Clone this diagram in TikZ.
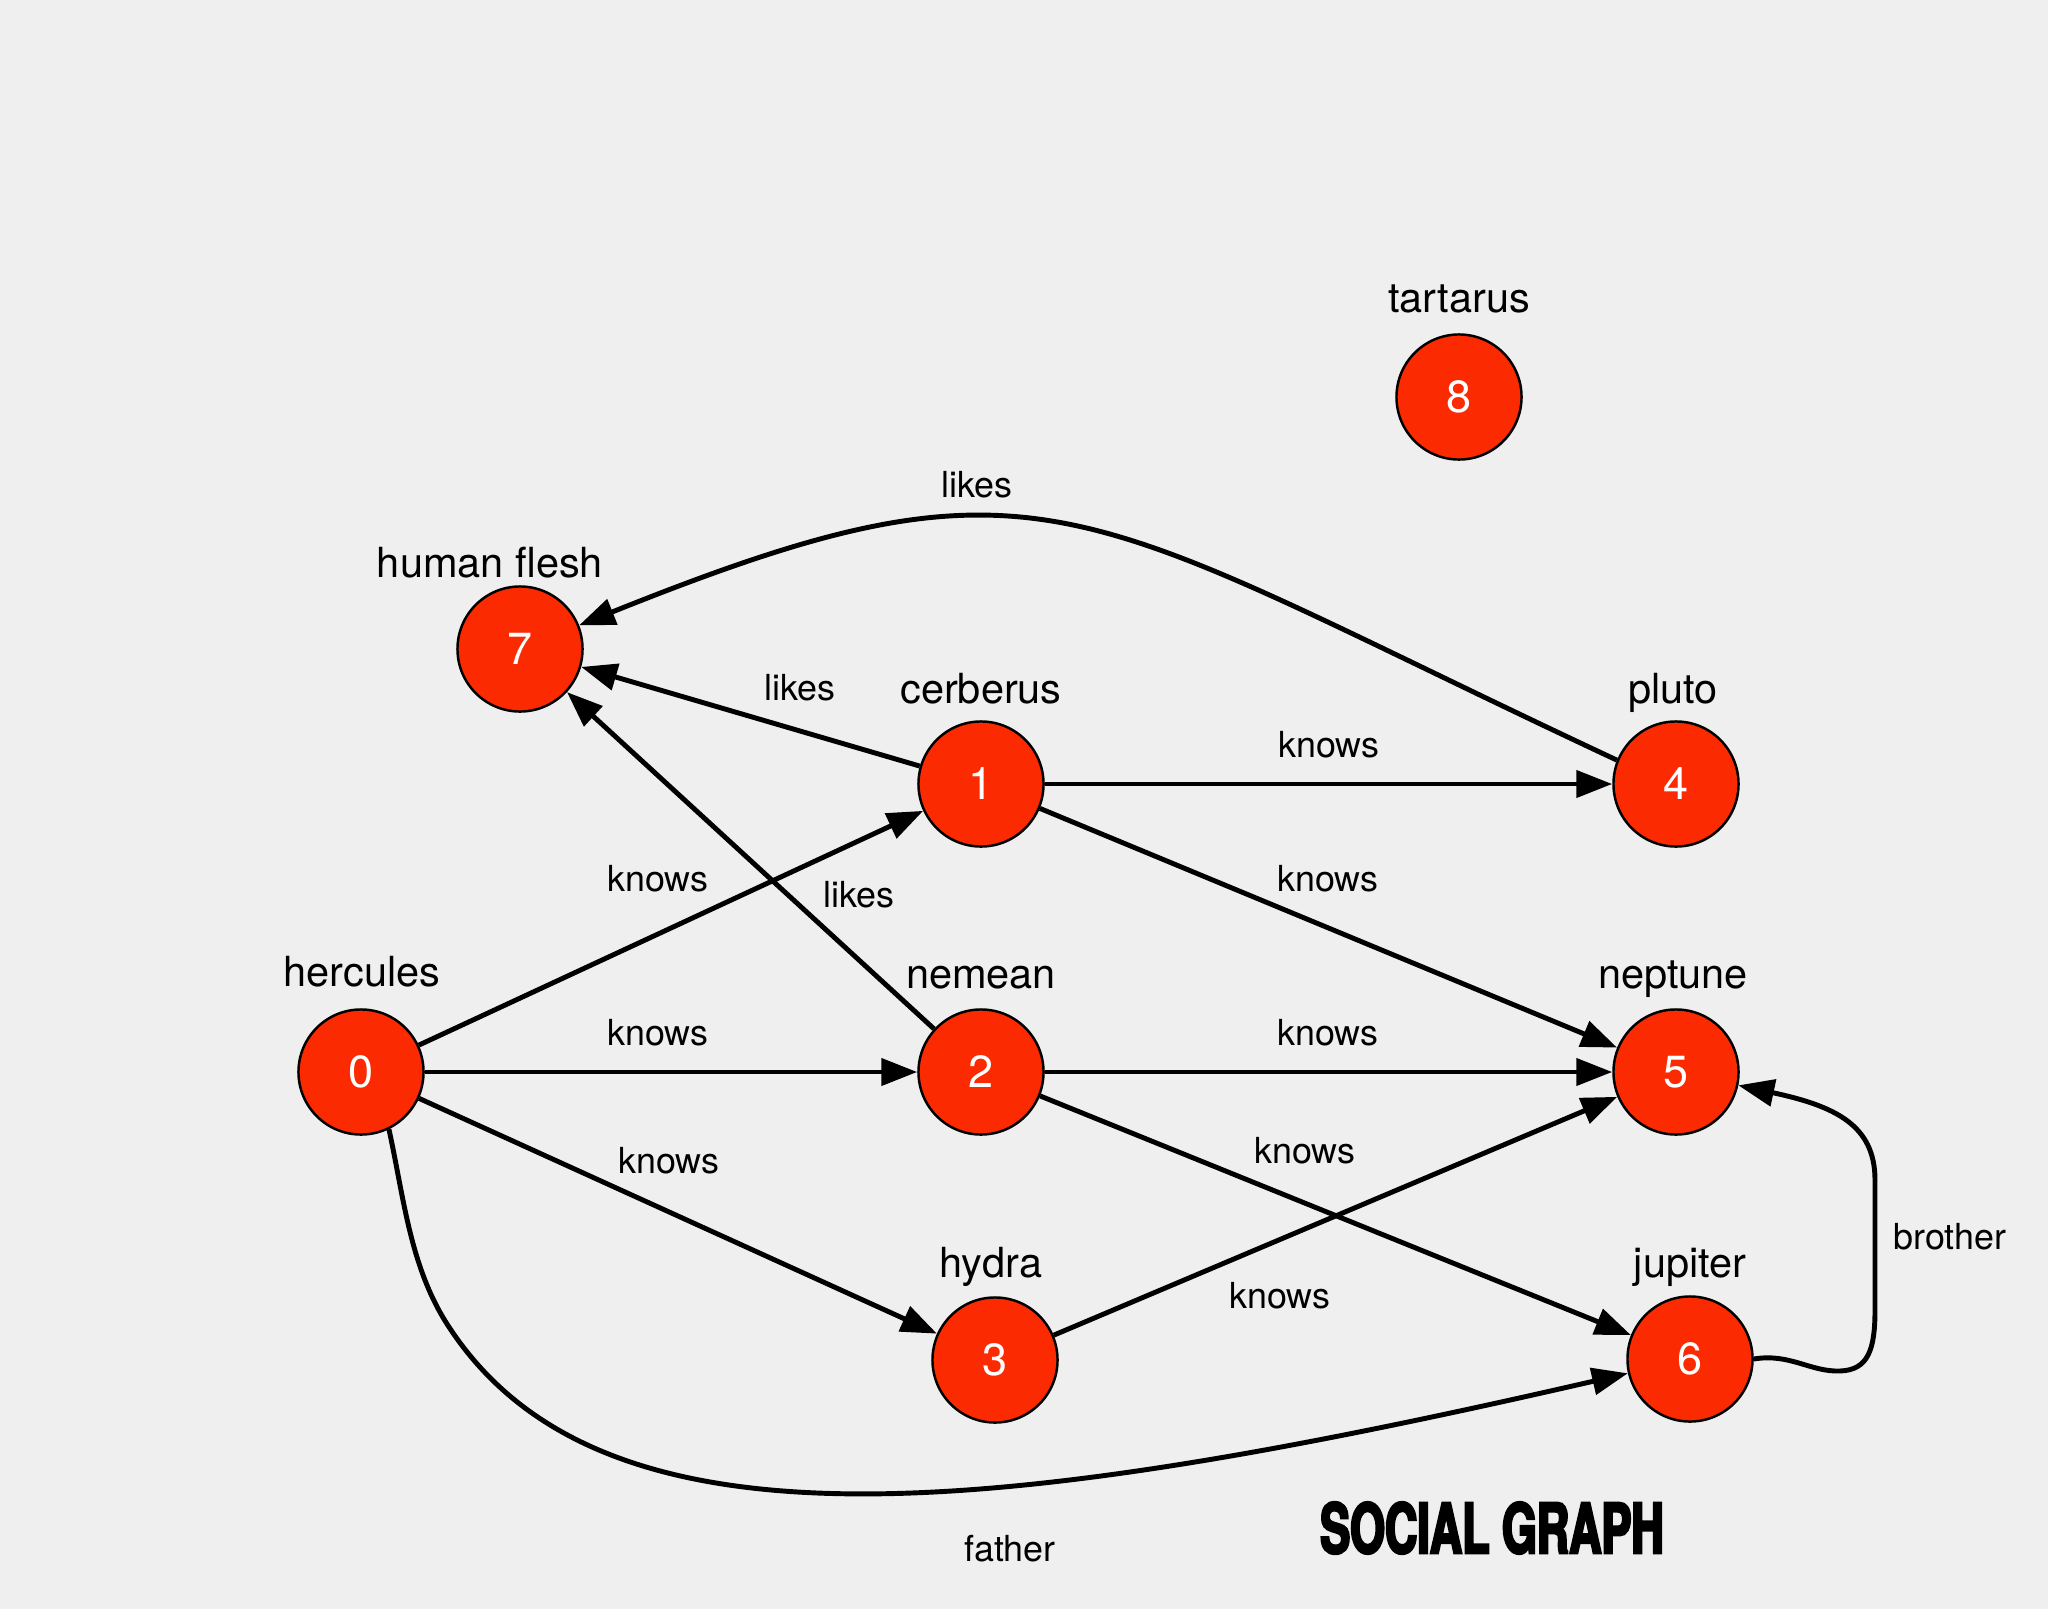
\documentclass[tikz,border=0pt]{standalone}
\usepackage{fontspec}
\setmainfont{TeX Gyre Heros}
\newfontfamily\titlefont{TeX Gyre Heros}[FakeStretch=0.65,FakeBold=3.5]
\usetikzlibrary{arrows.meta}
\definecolor{bgcol}{RGB}{240,239,240}
\definecolor{nodered}{RGB}{252,42,0}
\begin{document}
\begin{tikzpicture}[x=0.01cm,y=-0.01cm,
  vert/.style={circle, draw=black, line width=0.7pt, fill=nodered, minimum size=1.25cm, inner sep=0pt, text=white, font=\fontsize{12.8pt}{14pt}\selectfont},
  vname/.style={anchor=base, inner sep=0pt, font=\fontsize{11.8pt}{14pt}\selectfont},
  edge/.style={line width=1.4pt, -{Triangle[length=10.2pt,width=7.6pt]}},
  elabel/.style={inner sep=0pt, font=\fontsize{10.2pt}{12pt}\selectfont},
  gtitle/.style={inner sep=0pt, font=\titlefont\bfseries\fontsize{19.6pt}{22pt}\selectfont}
]
\fill[bgcol] (0,0) rectangle (2048,1609);
\useasboundingbox (0,0) rectangle (2048,1609);

% vertices
\node[vert] (n0) at (361,1072) {0};
\node[vert] (n1) at (981,784) {1};
\node[vert] (n2) at (981,1072) {2};
\node[vert] (n3) at (995,1360) {3};
\node[vert] (n4) at (1676,784) {4};
\node[vert] (n5) at (1676,1072) {5};
\node[vert] (n6) at (1690,1359) {6};
\node[vert] (n7) at (520,649) {7};
\node[vert] (n8) at (1459,397) {8};

% vertex names
\node[vname] (l0) at (362,986) {hercules};
\node[vname] (l1) at (981,703) {cerberus};
\node[vname] (l2) at (981,988) {nemean};
\node[vname] (l3) at (991,1277) {hydra};
\node[vname] (l4) at (1673,703) {pluto};
\node[vname] (l5) at (1673,988) {neptune};
\node[vname] (l6) at (1690,1277) {jupiter};
\node[vname] (l7) at (490,577) {human flesh};
\node[vname] (l8) at (1459,312) {tartarus};

% edges
\draw[edge] (n0) -- (n1) node[elabel] at (658,879) {knows};
\draw[edge] (n0) -- (n2) node[elabel] at (658,1033) {knows};
\draw[edge] (n0) -- (n3) node[elabel] at (669,1161) {knows};
\draw[edge] (n0.-64) .. controls (404,1198) and (410,1268) .. (449,1327)
  .. controls (603,1562) and (994,1519) .. (n6) node[elabel] at (1010,1549) {father};
\draw[edge] (n1) -- (n7) node[elabel] at (800,688) {likes};
\draw[edge] (n2) -- (n7) node[elabel] at (859,895) {likes};
\draw[edge] (n1) -- (n4) node[elabel] at (1329,745) {knows};
\draw[edge] (n1) -- (n5) node[elabel] at (1328,879) {knows};
\draw[edge] (n2) -- (n5) node[elabel] at (1328,1033) {knows};
\draw[edge] (n2) -- (n6) node[elabel] at (1305,1151) {knows};
\draw[edge] (n3) -- (n5) node[elabel] at (1280,1296) {knows};
\draw[edge] (n4.158) .. controls (1073,506) and (1048,437) .. (n7) node[elabel] at (977,485) {likes};
\draw[edge] (n6.east) .. controls (1790,1353) and (1810,1372) .. (1840,1371)
  .. controls (1868,1370) and (1875,1350) .. (1875,1310) -- (1875,1180)
  .. controls (1875,1125) and (1835,1106) .. (n5) node[elabel] at (1950,1237) {brother};

% title
\node[gtitle] (title) at (1492,1528) {SOCIAL GRAPH};
\end{tikzpicture}
\end{document}
